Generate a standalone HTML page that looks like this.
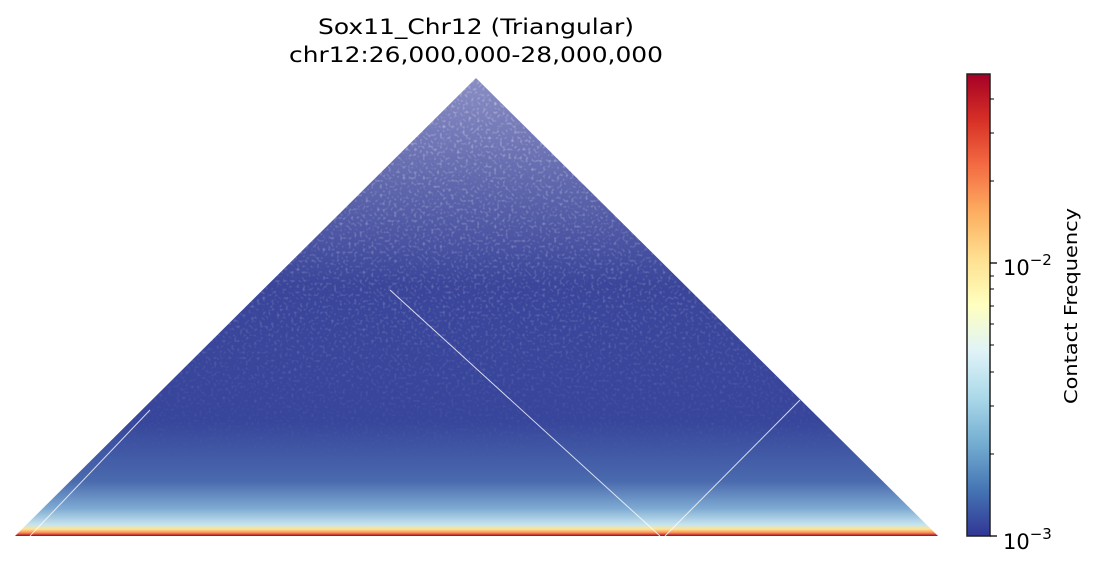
<!DOCTYPE html>
<html><head><meta charset="utf-8"><style>
html,body{margin:0;padding:0;background:#fff;}
body{width:1096px;height:566px;overflow:hidden;font-family:"DejaVu Sans","Liberation Sans",sans-serif;}
</style></head><body>
<svg width="1096" height="566" viewBox="0 0 1096 566" xmlns="http://www.w3.org/2000/svg">
<defs>
<linearGradient id="tri" x1="0" y1="78" x2="0" y2="536" gradientUnits="userSpaceOnUse">
<stop offset="0" stop-color="#8a8ec4"/>
<stop offset="0.25" stop-color="#5c64ab"/>
<stop offset="0.45" stop-color="#3b469b"/>
<stop offset="0.75" stop-color="#37459b"/>
<stop offset="0.88" stop-color="#4a6aae"/>
<stop offset="0.94" stop-color="#7eaad2"/>
<stop offset="0.975" stop-color="#c6e4ef"/>
<stop offset="0.985" stop-color="#fee596"/>
<stop offset="0.993" stop-color="#f88d52"/>
<stop offset="1" stop-color="#a50026"/>
</linearGradient>
<linearGradient id="cb" x1="0" y1="1" x2="0" y2="0">
<stop offset="0" stop-color="#313695"/>
<stop offset="0.1" stop-color="#4575b4"/>
<stop offset="0.2" stop-color="#74add1"/>
<stop offset="0.3" stop-color="#abd9e9"/>
<stop offset="0.4" stop-color="#e0f3f8"/>
<stop offset="0.5" stop-color="#ffffbf"/>
<stop offset="0.6" stop-color="#fee090"/>
<stop offset="0.7" stop-color="#fdae61"/>
<stop offset="0.8" stop-color="#f46d43"/>
<stop offset="0.9" stop-color="#d73027"/>
<stop offset="1" stop-color="#a50026"/>
</linearGradient>
<filter id="spk" x="0" y="0" width="100%" height="100%">
<feTurbulence type="fractalNoise" baseFrequency="0.35" numOctaves="1" seed="3"/>
<feColorMatrix type="matrix" values="0 0 0 0 1  0 0 0 0 1  0 0 0 0 1  0 0 0 -2.2 1.05"/>
</filter>
<clipPath id="tc"><polygon points="15,536 476,78 938,536"/></clipPath>
<linearGradient id="fade" x1="0" y1="78" x2="0" y2="536" gradientUnits="userSpaceOnUse">
<stop offset="0" stop-color="#fff" stop-opacity="1"/>
<stop offset="0.5" stop-color="#fff" stop-opacity="0.5"/>
<stop offset="0.85" stop-color="#fff" stop-opacity="0"/>
</linearGradient>
<mask id="fm"><rect x="0" y="0" width="1096" height="566" fill="url(#fade)"/></mask>
</defs>
<polygon points="15,536 476,78 938,536" fill="url(#tri)"/>
<g clip-path="url(#tc)" mask="url(#fm)" opacity="0.6">
<rect x="0" y="70" width="950" height="470" filter="url(#spk)"/>
</g>
<g clip-path="url(#tc)" stroke="#fff" stroke-width="1" opacity="0.8">
<line x1="390" y1="290" x2="660" y2="536"/>
<line x1="800" y1="400" x2="665" y2="536"/>
<line x1="150" y1="410" x2="30" y2="536"/>
</g>
<text x="318" y="34" textLength="316" lengthAdjust="spacingAndGlyphs" font-size="21" fill="#000">Sox11_Chr12 (Triangular)</text>
<text x="289" y="62" textLength="374" lengthAdjust="spacingAndGlyphs" font-size="21" fill="#000">chr12:26,000,000-28,000,000</text>
<rect x="967" y="74" width="23" height="462" fill="url(#cb)" stroke="#222" stroke-width="1.5"/>
<g stroke="#000" stroke-width="1">
<line x1="990" y1="263" x2="997" y2="263" stroke-width="1.3"/>
<line x1="990" y1="536" x2="997" y2="536" stroke-width="1.3"/>
<line x1="990" y1="181" x2="994" y2="181"/>
<line x1="990" y1="133" x2="994" y2="133"/>
<line x1="990" y1="99" x2="994" y2="99"/>
<line x1="990" y1="276" x2="994" y2="276"/>
<line x1="990" y1="289" x2="994" y2="289"/>
<line x1="990" y1="306" x2="994" y2="306"/>
<line x1="990" y1="324" x2="994" y2="324"/>
<line x1="990" y1="345" x2="994" y2="345"/>
<line x1="990" y1="372" x2="994" y2="372"/>
<line x1="990" y1="406" x2="994" y2="406"/>
<line x1="990" y1="454" x2="994" y2="454"/>
</g>
<text x="1003" y="275" font-size="21" fill="#000">10<tspan dy="-10" font-size="15">−2</tspan></text>
<text x="1003" y="549" font-size="21" fill="#000">10<tspan dy="-10" font-size="15">−3</tspan></text>
<text transform="translate(1077,306) rotate(-90)" text-anchor="middle" font-size="18" textLength="196" lengthAdjust="spacingAndGlyphs" fill="#000">Contact Frequency</text>
</svg>
</body></html>
